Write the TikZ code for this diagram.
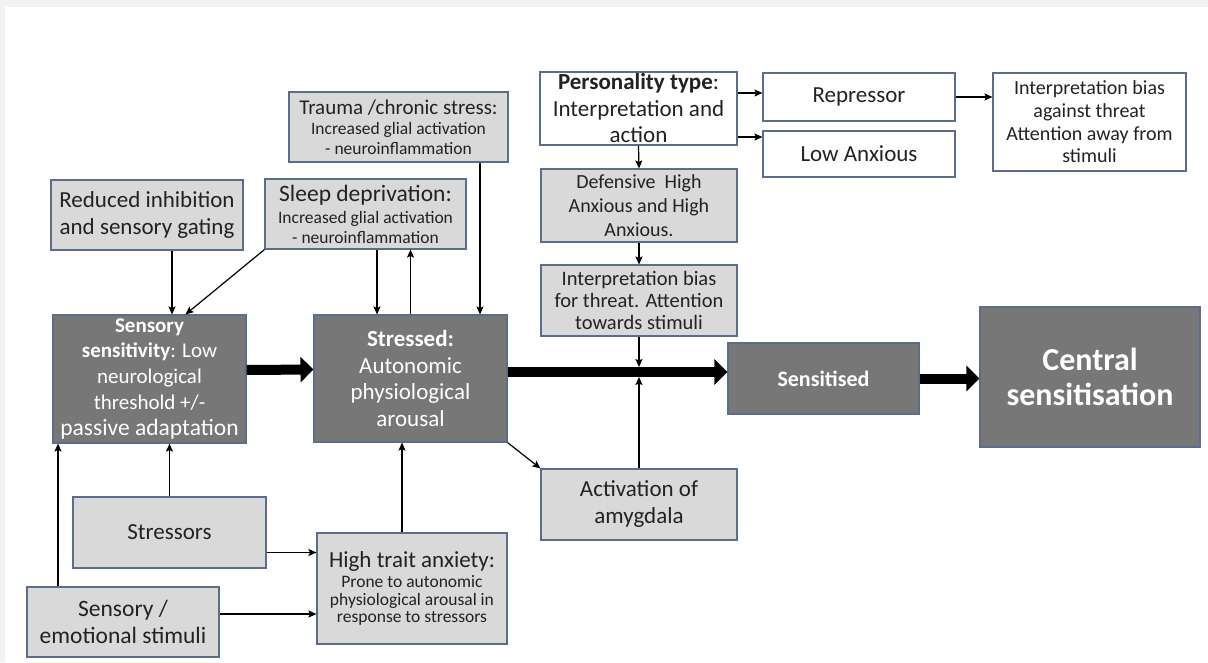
\documentclass[tikz,border=0pt]{standalone}
\usepackage{fontspec}
\setmainfont{Carlito}
\usetikzlibrary{arrows.meta,calc}
\definecolor{bgc}{HTML}{F2F2F2}
\definecolor{bordc}{HTML}{5A6E8C}
\definecolor{lightc}{HTML}{D9D9D9}
\definecolor{darkc}{HTML}{777777}
\definecolor{txtc}{HTML}{222222}
\newcommand\mybox[7]{%
  \pgfmathsetmacro\cxx{(#2+#4)/2}%
  \pgfmathsetmacro\cyy{(#3+#5)/2}%
  \pgfmathsetmacro\ww{#4-#2}%
  \pgfmathsetmacro\hh{#5-#3}%
  \node[#6, minimum width=\ww pt, minimum height=\hh pt] (#1) at (\cxx,\cyy) {#7};}
\newcommand\fs[2]{\fontsize{#1}{#2}\selectfont}
\begin{document}
\begin{tikzpicture}[x=1pt,y=-1pt,
  basebox/.style={draw=bordc, line width=1.1pt, inner sep=0pt, align=center, font=\fs{23}{27}},
  lbox/.style={basebox, fill=lightc, text=txtc},
  wbox/.style={basebox, fill=white, text=txtc},
  dbox/.style={basebox, fill=darkc, text=white},
  arr/.style={draw=black, line width=1.2pt, -{Stealth[length=8pt,width=7pt,inset=1.5pt]}},
  bigarr/.style={draw=black, line width=10pt, -{Triangle[length=13pt,width=25pt]}}]
\fill[bgc] (0,0) rectangle (1208,662);
\fill[white] (5,7) rectangle (1208,662);
\useasboundingbox (0,0) rectangle (1208,662);

\mybox{tr}{289}{92}{508}{162}{lbox,font=\fs{17.5}{19.5}}{{\fs{21}{21}Trauma /chronic stress:}\\[1pt]Increased glial activation\\- neuroinflammation}
\mybox{pt}{540}{72}{737}{145}{wbox,font=\fs{23}{26.5}}{\textbf{Personality type}:\\Interpretation and\\action}
\mybox{rep}{763}{73}{955}{121}{wbox}{Repressor}
\mybox{la}{763}{131}{955}{177}{wbox}{Low Anxious}
\mybox{ia}{993}{73}{1186}{171}{wbox,font=\fs{20}{22.7}}{Interpretation bias\\against threat\\Attention away from\\stimuli}
\mybox{df}{541}{169}{737}{242}{lbox,font=\fs{20}{24}}{Defensive\ \ High\\Anxious and High\\Anxious.}
\mybox{ith}{541}{265}{737}{336}{lbox,font=\fs{20.5}{22}}{Interpretation bias\\for threat. Attention\\towards stimuli}
\mybox{ri}{51}{180}{243}{250}{lbox}{Reduced inhibition\\and sensory gating}
\mybox{sd}{265}{179}{466}{249}{lbox,font=\fs{17.5}{20}}{{\fs{23.5}{23}Sleep deprivation:}\\[2pt]Increased glial activation\\- neuroinflammation}
\mybox{ss}{53}{315}{246}{443}{dbox,font=\fs{21}{26}}{\textbf{Sensory}\\\textbf{sensitivity}: Low\\neurological\\threshold +/-\\{\fs{23.5}{26}passive adaptation}}
\mybox{st}{314}{315}{507}{442}{dbox,font=\fs{23}{26.5}}{\textbf{Stressed:}\\Autonomic\\physiological\\arousal}
\mybox{sen}{728}{343}{919}{414}{dbox,font=\bfseries\fs{22}{26}}{Sensitised}
\mybox{cs}{980}{307}{1200}{447}{dbox,font=\bfseries\fs{32}{35}}{Central\\sensitisation}
\mybox{am}{541}{469}{737}{540}{lbox}{Activation of\\amygdala}
\mybox{so}{73}{497}{266}{568}{lbox}{Stressors}
\mybox{hta}{317}{533}{507}{644}{lbox,font=\fs{17.5}{17.5}}{{\fs{23}{23}High trait anxiety:}\\[3pt]Prone to autonomic\\physiological arousal in\\response to stressors}
\mybox{sm}{27}{587}{219}{657}{lbox,font=\fs{23.5}{27}}{Sensory /\\emotional stimuli}

% thick arrows
\draw[bigarr] ([yshift=9pt]ss.east) -- ([yshift=9pt]st.west);
\draw[bigarr] ([yshift=6.5pt]st.east) -- ([yshift=6.5pt]sen.west);
\draw[bigarr] (sen.east) -- (sen.east -| cs.west);
\coordinate (trunk) at ([yshift=6.5pt]st.east);
\coordinate (jt) at ($(ith.south |- trunk)+(0,-5)$);
\coordinate (jb) at ($(am.north |- trunk)+(0,5)$);

% personality column
\coordinate (repIn) at ([yshift=4pt]rep.west);
\draw[arr] (pt.east |- repIn) -- (repIn);
\coordinate (laIn) at ([yshift=17pt]la.west);
\draw[arr] (pt.east |- laIn) -- (laIn);
\draw[arr] (rep.east) -- (rep.east -| ia.west);
\draw[arr] (pt.south) -- (df.north);
\draw[arr] (df.south) -- (ith.north);
\draw[arr] (ith.south) -- (jt);
\draw[arr] (am.north) -- (jb);

% top inputs
\draw[arr] ([xshift=25pt]ri.south) -- ([xshift=25pt]ri.south |- ss.north);
\draw[arr] (sd.south west) -- ([xshift=36pt]ss.north);
\draw[arr] ([xshift=11.5pt]sd.south) -- ([xshift=11.5pt]sd.south |- st.north);
\draw[arr] (st.north) -- (st.north |- sd.south);
\draw[arr] ([xshift=81.5pt]tr.south) -- ([xshift=81.5pt]tr.south |- st.north);

% bottom inputs
\draw[arr] (so.north) -- (so.north |- ss.south);
\draw[arr] ([xshift=-65pt]sm.north) -- ([xshift=-65pt]sm.north |- ss.south);
\draw[arr] ([yshift=-20pt]so.east) -- ([yshift=-20pt]so.east -| hta.west);
\draw[arr] ([yshift=8pt]sm.east) -- ([yshift=8pt]sm.east -| hta.west);
\draw[arr] ([xshift=-10pt]hta.north) -- ([xshift=-10pt]hta.north |- st.south);
\draw[arr] (st.south east) -- (am.north west);
\end{tikzpicture}
\end{document}
